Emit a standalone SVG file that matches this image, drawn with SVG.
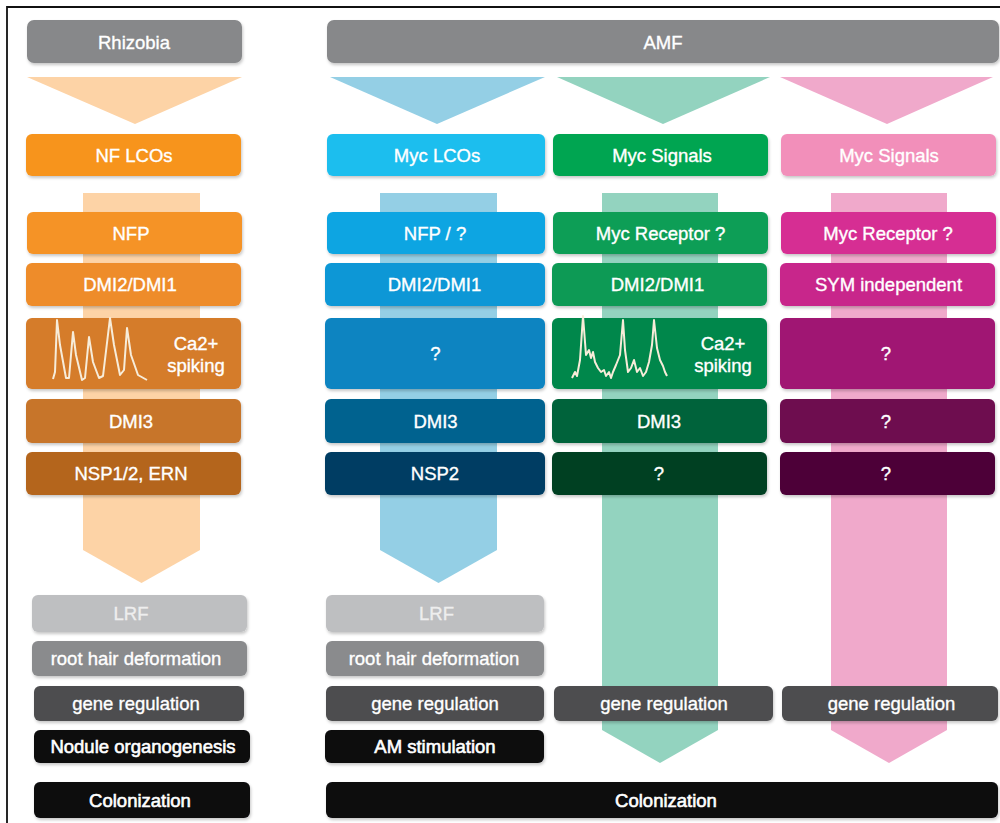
<svg xmlns="http://www.w3.org/2000/svg" width="1000" height="823" viewBox="0 0 1000 823">
<defs>
<filter id="sh" x="-5%" y="-20%" width="110%" height="150%">
<feDropShadow dx="1" dy="2" stdDeviation="1.5" flood-color="#000" flood-opacity="0.22"/>
</filter>
<style>
text{font-family:"Liberation Sans",Arial,sans-serif;font-size:18.5px;fill:#fff;stroke:#fff;stroke-width:0.35;text-anchor:middle}
.b{filter:url(#sh)}
.wave{fill:none;stroke:#f7ecd9;stroke-width:2;stroke-linejoin:round}
text.lrf{fill:#eeeeee;stroke:#eeeeee}
text.k{stroke-width:0.6}
</style>
</defs>
<rect width="1000" height="823" fill="#fff"/>
<path d="M7,823 V7 H1000" fill="none" stroke="#111" stroke-width="1.8"/>

<g id="connectors">
<polygon points="27,77 242,77 135,124" fill="#fdd3a6"/>
<polygon points="330,77 545,77 437,124" fill="#94cfe5"/>
<polygon points="557,77 770,77 663,124" fill="#93d3bf"/>
<polygon points="780,77 993,77 887,124" fill="#f0a9cb"/>
<polygon points="83,193 200,193 200,550 141.5,583 83,550" fill="#fdd3a6"/>
<polygon points="380,193 497,193 497,550 438.5,583 380,550" fill="#94cfe5"/>
<polygon points="602,193 718,193 718,730 660,763 602,730" fill="#93d3bf"/>
<polygon points="831,193 947,193 947,730 889,763 831,730" fill="#f0a9cb"/>
</g>

<g id="rhizobia"><rect class="b" x="27" y="20" width="215" height="43" rx="7" fill="#87888a"/><text x="134" y="48.5">Rhizobia</text></g>
<g id="amf"><rect class="b" x="327" y="20" width="672" height="43" rx="7" fill="#87888a"/><text x="663" y="48.5">AMF</text></g>

<g id="nf-lcos"><rect class="b" x="26" y="134" width="215" height="42" rx="6" fill="#f7941f"/><text x="134" y="161.5">NF LCOs</text></g>
<g id="myc-lcos"><rect class="b" x="327" y="134" width="218" height="42" rx="6" fill="#1fbeee"/><text x="437" y="161.5">Myc LCOs</text></g>
<g id="myc-signals-green"><rect class="b" x="553" y="134" width="215" height="42" rx="6" fill="#00a551"/><text x="662" y="161.5">Myc Signals</text></g>
<g id="myc-signals-pink"><rect class="b" x="781" y="134" width="215" height="42" rx="6" fill="#f28fba"/><text x="889" y="161.5">Myc Signals</text></g>

<!-- orange column -->
<g id="nfp"><rect class="b" x="27" y="212" width="215" height="42" rx="6" fill="#f59327"/><text x="131" y="239.5">NFP</text></g>
<g id="dmi-orange"><rect class="b" x="26" y="263" width="215" height="43" rx="6" fill="#ee8c29"/><text x="130" y="291">DMI2/DMI1</text></g>
<g id="ca-orange"><rect class="b" x="26" y="318" width="215" height="71" rx="6" fill="#d57b29"/>
<path class="wave" d="M53,379 L55,372 L57,320 L60,345 L66,378 L69,378 L73,332 L76,355 L82,380 L85,378 L89,337 L93,362 L99,378 L103,376 L110,318 L114,345 L120,375 L124,370 L127,328 L131,355 L138,375 L147,380"/>
<text x="196" y="350">Ca2+</text><text x="196" y="372">spiking</text></g>
<g id="dmi3-orange"><rect class="b" x="26" y="399" width="215" height="44" rx="6" fill="#c7742a"/><text x="131" y="427.5">DMI3</text></g>
<g id="nsp-orange"><rect class="b" x="26" y="452" width="215" height="43" rx="6" fill="#b4651f"/><text x="131" y="480">NSP1/2, ERN</text></g>

<!-- blue column -->
<g id="nfp-q"><rect class="b" x="327" y="212" width="218" height="42" rx="6" fill="#0ea5e2"/><text x="435" y="239.5">NFP / ?</text></g>
<g id="dmi-blue"><rect class="b" x="325" y="263" width="220" height="43" rx="6" fill="#0997d6"/><text x="434.5" y="291">DMI2/DMI1</text></g>
<g id="q-blue"><rect class="b" x="325" y="318" width="220" height="71" rx="6" fill="#0a84c1"/><text x="435.5" y="360">?</text></g>
<g id="dmi3-blue"><rect class="b" x="325" y="399" width="220" height="44" rx="6" fill="#06628f"/><text x="435.5" y="427.5">DMI3</text></g>
<g id="nsp2"><rect class="b" x="325" y="452" width="220" height="43" rx="6" fill="#053e63"/><text x="435" y="480">NSP2</text></g>

<!-- green column -->
<g id="myc-rec-green"><rect class="b" x="553" y="212" width="215" height="42" rx="6" fill="#0a9e56"/><text x="660.5" y="239.5">Myc Receptor ?</text></g>
<g id="dmi-green"><rect class="b" x="552" y="263" width="215" height="43" rx="6" fill="#0a9a55"/><text x="657.5" y="291">DMI2/DMI1</text></g>
<g id="ca-green"><rect class="b" x="552" y="318" width="215" height="71" rx="6" fill="#06874b"/>
<path class="wave" d="M572,378 L575,372 L577,376 L580,360 L583,316 L586,355 L589,350 L591,358 L593,352 L595,362 L598,368 L601,372 L604,370 L606,376 L609,372 L611,378 L613,372 L616,365 L618,360 L620,355 L623,320 L625,350 L628,372 L631,368 L634,360 L637,372 L640,368 L643,376 L646,372 L649,362 L652,345 L654,320 L657,348 L660,360 L663,366 L665,372 L667,376"/>
<text x="723" y="350">Ca2+</text><text x="723" y="372">spiking</text></g>
<g id="dmi3-green"><rect class="b" x="552" y="399" width="215" height="44" rx="6" fill="#04643a"/><text x="659" y="427.5">DMI3</text></g>
<g id="q-green"><rect class="b" x="552" y="452" width="215" height="43" rx="6" fill="#033f23"/><text x="659" y="480">?</text></g>

<!-- pink column -->
<g id="myc-rec-pink"><rect class="b" x="781" y="212" width="215" height="42" rx="6" fill="#d62d93"/><text x="888" y="239.5">Myc Receptor ?</text></g>
<g id="sym-indep"><rect class="b" x="780" y="263" width="215" height="43" rx="6" fill="#c8258b"/><text x="888.5" y="291">SYM independent</text></g>
<g id="q-pink1"><rect class="b" x="780" y="318" width="215" height="71" rx="6" fill="#a01273"/><text x="886" y="360">?</text></g>
<g id="q-pink2"><rect class="b" x="780" y="399" width="215" height="44" rx="6" fill="#6e0b4f"/><text x="886" y="427.5">?</text></g>
<g id="q-pink3"><rect class="b" x="780" y="452" width="215" height="43" rx="6" fill="#4e0637"/><text x="886" y="480">?</text></g>

<!-- bottom left -->
<g id="lrf-1"><rect class="b" x="32" y="595" width="215" height="37" rx="6" fill="#bebfc1"/><text class="lrf" x="131" y="620">LRF</text></g>
<g id="rhd-1"><rect class="b" x="32" y="641" width="215" height="35" rx="6" fill="#8a8b8d"/><text x="136" y="665">root hair deformation</text></g>
<g id="gene-1"><rect class="b" x="34" y="686" width="210" height="35" rx="6" fill="#4d4e50"/><text x="136" y="710">gene regulation</text></g>
<g id="nodule"><rect class="b" x="34" y="730" width="216" height="33" rx="6" fill="#0a0a0c"/><text class="k" x="143" y="753">Nodule organogenesis</text></g>
<g id="colon-1"><rect class="b" x="34" y="782" width="216" height="36" rx="6" fill="#0a0a0c"/><text class="k" x="140" y="806.5">Colonization</text></g>

<!-- bottom blue -->
<g id="lrf-2"><rect class="b" x="326" y="595" width="218" height="37" rx="6" fill="#bebfc1"/><text class="lrf" x="436.5" y="620">LRF</text></g>
<g id="rhd-2"><rect class="b" x="326" y="641" width="218" height="35" rx="6" fill="#8a8b8d"/><text x="434" y="665">root hair deformation</text></g>
<g id="gene-2"><rect class="b" x="326" y="686" width="218" height="35" rx="6" fill="#4d4e50"/><text x="435" y="710">gene regulation</text></g>
<g id="am-stim"><rect class="b" x="325" y="730" width="219" height="33" rx="6" fill="#0a0a0c"/><text class="k" x="435" y="753">AM stimulation</text></g>

<g id="gene-3"><rect class="b" x="554" y="686" width="219" height="35" rx="6" fill="#4d4e50"/><text x="664" y="710">gene regulation</text></g>
<g id="gene-4"><rect class="b" x="782" y="686" width="216" height="35" rx="6" fill="#4d4e50"/><text x="891.5" y="710">gene regulation</text></g>

<g id="colon-2"><rect class="b" x="326" y="782" width="672" height="36" rx="6" fill="#0a0a0c"/><text class="k" x="666" y="806.5">Colonization</text></g>
</svg>
